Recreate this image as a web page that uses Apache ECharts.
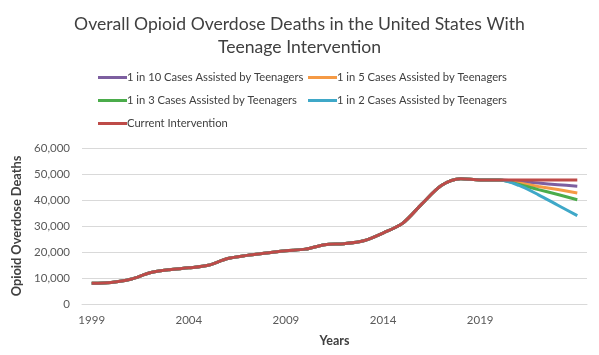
<!DOCTYPE html>
<html><head><meta charset="utf-8">
<script src="https://cdn.jsdelivr.net/npm/echarts@6/dist/echarts.min.js"></script>
<style>html,body{margin:0;padding:0;background:#fff}#c{width:599px;height:355px}</style>
</head><body><div id="c"></div>
<script>
const years = ['1999','2000','2001','2002','2003','2004','2005','2006','2007','2008','2009','2010','2011','2012','2013','2014','2015','2016','2017','2018','2019','2020','2021','2022','2023','2024'];
const tickLabels = ['1999','2004','2009','2014','2019'];
const base = [8000,8300,9500,12000,13200,13900,14900,17500,18700,19600,20500,21100,22800,23200,24300,27300,31000,38500,45600,48200,47700,47700];
const oneIn10 = [47100,46500,45900,45300];
const oneIn5 = [46500,45200,44000,42700];
const oneIn3 = [46000,44000,42100,40100];
const oneIn2 = [45600,42000,38000,34000];
const current = [47700,47700,47700,47700];
const names = ['1 in 10 Cases Assisted by Teenagers','1 in 5 Cases Assisted by Teenagers','1 in 3 Cases Assisted by Teenagers','1 in 2 Cases Assisted by Teenagers','Current Intervention'];
const colors = ['#7D5FA0','#F59A45','#4BAC4B','#3FA8C8','#BE4B48'];
const tails = [oneIn10, oneIn5, oneIn3, oneIn2, current];
const FONT = 'Lato';
const chart = echarts.init(document.getElementById('c'));
const legendText = {fontFamily:FONT,fontSize:11.2,color:'#404040',padding:[0,0,0,-5]};
chart.setOption({
  animation:false,
  color: colors,
  textStyle:{fontFamily:FONT},
  title:{text:'Overall Opioid Overdose Deaths in the United States With\nTeenage Intervention',left:'center',top:8,
    textStyle:{fontFamily:FONT,fontSize:17.6,fontWeight:'normal',color:'#404040',lineHeight:23}},
  legend:[
    {orient:'vertical',left:93,top:67,itemWidth:29,itemHeight:3,itemGap:12,icon:'rect',
     textStyle:legendText,data:[names[0],names[2],names[4]]},
    {orient:'vertical',left:303,top:67,itemWidth:29,itemHeight:3,itemGap:12,icon:'rect',
     textStyle:legendText,data:[names[1],names[3]]}
  ],
  grid:{left:82,right:12,top:148,bottom:51},
  xAxis:{type:'category',data:years,boundaryGap:true,
    axisLine:{show:true,lineStyle:{color:'#d9d9d9'}},axisTick:{show:false},
    axisLabel:{interval:(i,v)=>tickLabels.includes(v),color:'#595959',fontSize:11.5,fontFamily:FONT,margin:10},
    name:'Years',nameLocation:'middle',nameGap:30,
    nameTextStyle:{fontFamily:FONT,fontWeight:'bold',fontSize:12.5,color:'#404040'}},
  yAxis:{type:'value',min:0,max:60000,interval:10000,
    axisLine:{show:false},axisTick:{show:false},
    splitLine:{lineStyle:{color:'#d9d9d9'}},
    axisLabel:{color:'#595959',fontSize:11.5,fontFamily:FONT,margin:12,
      formatter:v=>v.toLocaleString('en-US')},
    name:'Opioid Overdose Deaths',nameLocation:'middle',nameGap:57,
    nameTextStyle:{fontFamily:FONT,fontWeight:'bold',fontSize:12.8,color:'#404040'}},
  series: names.map((n,i)=>({
    name:n,type:'line',smooth:0.3,symbol:'none',
    lineStyle:{width:3,color:colors[i]},
    data: base.concat(tails[i]),
    z: 2+i
  }))
});
</script></body></html>
